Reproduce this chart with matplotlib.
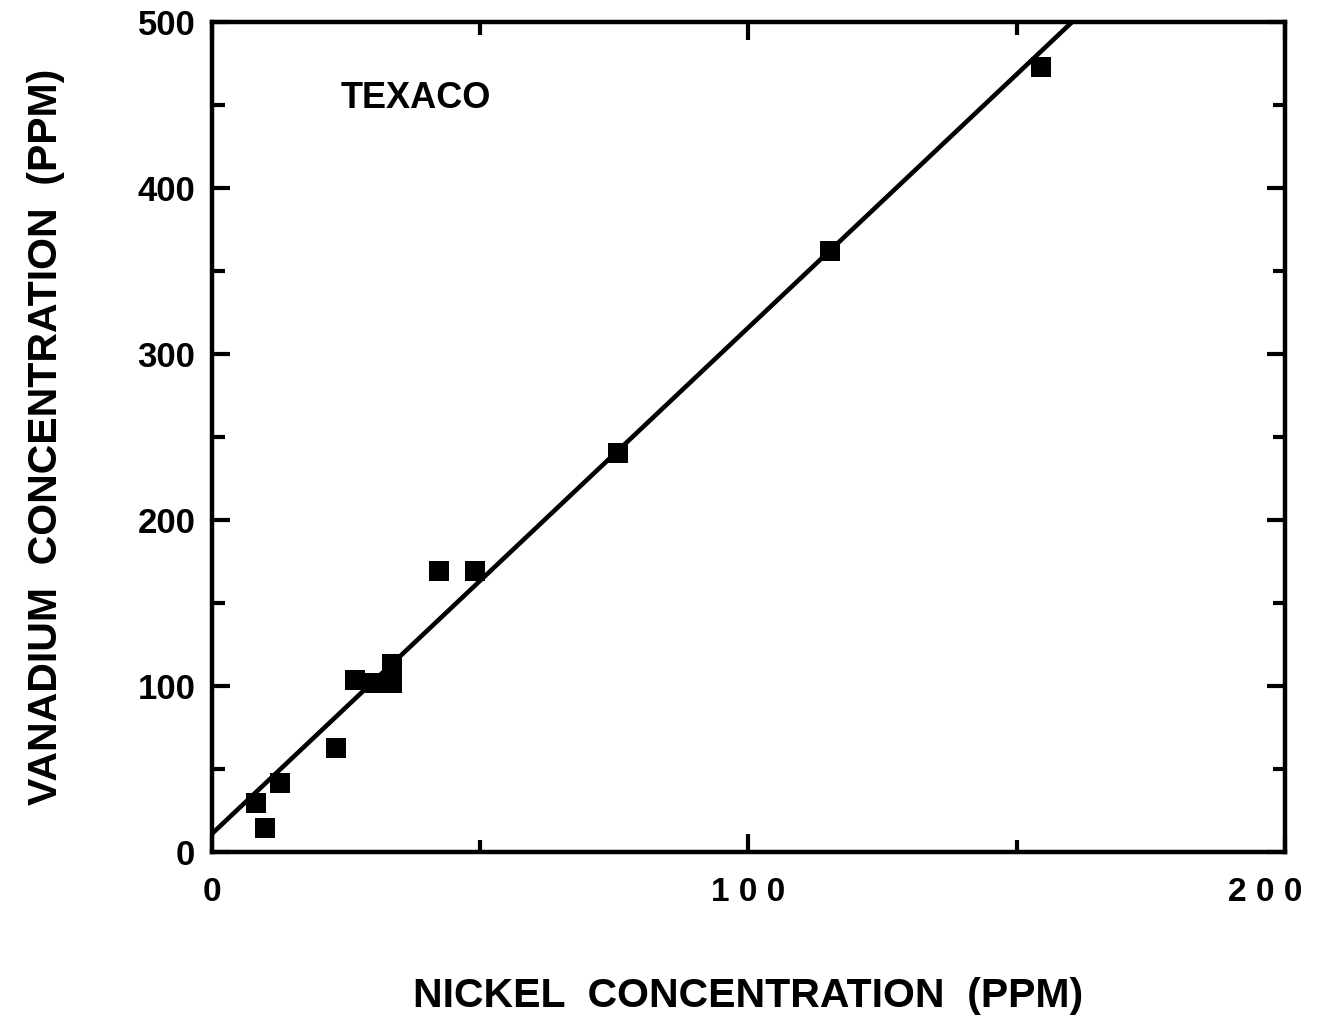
import matplotlib

matplotlib.use("Agg")
import matplotlib.pyplot as plt  # noqa: E402
import matplotlib.transforms as mtrans  # noqa: E402
import numpy as np  # noqa: E402
from matplotlib.ticker import MultipleLocator  # noqa: E402

# Nickel vs vanadium concentrations (ppm), Texaco samples
nickel = [8.2, 9.9, 12.7, 23.1, 26.7, 30.4, 33.6, 33.6, 42.3, 49.0, 75.7, 115.2, 154.5]
vanadium = [29.5, 14.5, 41.6, 62.7, 103.6, 101.8, 101.8, 113.3, 169.3, 169.3, 240.4, 362.0, 472.9]

# least-squares line as drawn in the figure
fit_intercept = 11.0
fit_slope = 3.05

x_ticks = [0, 100, 200]
x_tick_labels = ["0", "1 0 0", "2 0 0"]
y_ticks = [0, 100, 200, 300, 400, 500]

plt.rcParams["font.family"] = ["Liberation Sans", "DejaVu Sans"]
plt.rcParams["font.weight"] = "bold"

fig = plt.figure(figsize=(13.36, 10.18), dpi=100)
ax = fig.add_axes([0.1587, 0.1631, 0.8031, 0.8153])

ax.scatter(nickel, vanadium, marker="s", s=14.5 ** 2, color="black",
           linewidths=0, zorder=3)

xs = np.array([0, 200])
ax.plot(xs, fit_intercept + fit_slope * xs, color="black", lw=3.3, zorder=2)

ax.set_xlim(0, 200)
ax.set_ylim(0, 500)
ax.set_xticks(x_ticks)
ax.set_xticklabels(x_tick_labels)
ax.set_yticks(y_ticks)
ax.xaxis.set_minor_locator(MultipleLocator(50))
ax.yaxis.set_minor_locator(MultipleLocator(50))

ax.tick_params(which="both", direction="in", top=True, right=True, width=3)
ax.tick_params(which="major", length=13)
ax.tick_params(which="minor", length=9)
ax.tick_params(axis="y", labelsize=25, pad=12)
ax.tick_params(axis="x", labelsize=24, pad=18)
for lab in ax.get_xticklabels() + ax.get_yticklabels():
    lab.set_fontweight("bold")
# last x label sits a bit left of its tick in the original
last = ax.get_xticklabels()[-1]
last.set_transform(last.get_transform()
                   + mtrans.ScaledTranslation(-0.2, 0, fig.dpi_scale_trans))
for sp in ax.spines.values():
    sp.set_linewidth(3.2)

ax.text(24, 454, "TEXACO", fontsize=26, fontweight="bold", va="center", ha="left")

ax.set_xlabel("NICKEL  CONCENTRATION  (PPM)", fontsize=29.5, fontweight="bold",
              labelpad=50)
ax.set_ylabel("VANADIUM  CONCENTRATION  (PPM)", fontsize=29.5, fontweight="bold",
              labelpad=52)

fig.savefig("out.png", dpi=100)
